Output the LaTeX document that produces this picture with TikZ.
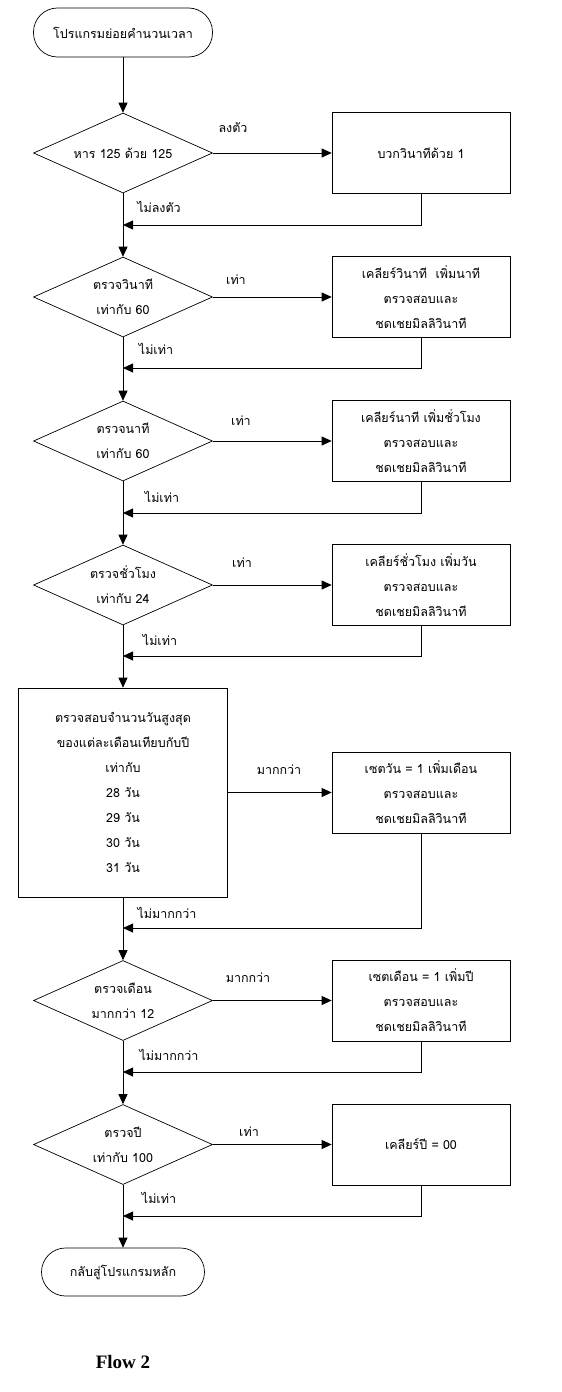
\documentclass[tikz,border=0pt]{standalone}
\usepackage{fontspec}
\setmainfont{Liberation Serif}
\newfontfamily\thai[Script=Thai]{Loma}
\usetikzlibrary{shapes.geometric,arrows.meta}
\begin{document}
\begin{tikzpicture}[x=1pt,y=-1pt,
  every node/.style={font=\thai\fontsize{12.5}{25}\selectfont, inner sep=0pt},
  line/.style={draw=black, line width=0.8pt},
  arr/.style={line, -{Triangle[length=10pt,width=9pt]}},
  dec/.style={draw, line width=0.7pt, shape=diamond, aspect=2.24, minimum width=179pt, minimum height=80pt, align=center},
  proc/.style={draw, line width=0.7pt, rectangle, minimum width=178pt, minimum height=81pt, align=center},
  term/.style={draw, line width=0.7pt, rectangle, rounded corners=24pt, minimum height=49pt, align=center},
  lab/.style={anchor=center}]
\useasboundingbox (0,0) rectangle (562,1392);

\node[term, minimum width=179pt] (start) at (123,32.5) {โปรแกรมย่อยคำนวนเวลา};

\node[dec] (d1) at (123,153) {หาร 125 ด้วย 125};
\node[proc] (b1) at (421,153) {บวกวินาทีด้วย 1};
\coordinate (j1) at (123,225);

\node[dec] (d2) at (123,297) {ตรวจวินาที\\เท่ากับ 60};
\node[proc] (b2) at (421,297) {เคลียร์วินาที\ \ เพิ่มนาที\\ตรวจสอบและ\\ชดเชยมิลลิวินาที};
\coordinate (j2) at (123,368);

\node[dec] (d3) at (123,441) {ตรวจนาที\\เท่ากับ 60};
\node[proc] (b3) at (421,441) {เคลียร์นาที เพิ่มชั่วโมง\\ตรวจสอบและ\\ชดเชยมิลลิวินาที};
\coordinate (j3) at (123,513);

\node[dec] (d4) at (123,585) {ตรวจชั่วโมง\\เท่ากับ 24};
\node[proc] (b4) at (421,585) {เคลียร์ชั่วโมง เพิ่มวัน\\ตรวจสอบและ\\ชดเชยมิลลิวินาที};
\coordinate (j4) at (123,656);

\node[proc, minimum width=209pt, minimum height=209pt] (big) at (123,792.5) {ตรวจสอบจำนวนวันสูงสุด\\ของแต่ละเดือนเทียบกับปี\\เท่ากับ\\28 วัน\\29 วัน\\30 วัน\\31 วัน};
\node[proc] (b5) at (421,792.5) {เซตวัน = 1 เพิ่มเดือน\\ตรวจสอบและ\\ชดเชยมิลลิวินาที};
\coordinate (j5) at (123,928);

\node[dec] (d6) at (123,1000.5) {ตรวจเดือน\\มากกว่า 12};
\node[proc] (b6) at (421,1000.5) {เซตเดือน = 1 เพิ่มปี\\ตรวจสอบและ\\ชดเชยมิลลิวินาที};
\coordinate (j6) at (123,1072);

\node[dec] (d7) at (123,1144.5) {ตรวจปี\\เท่ากับ 100};
\node[proc] (b7) at (421,1144.5) {เคลียร์ปี = 00};
\coordinate (j7) at (123,1216);

\node[term, minimum width=163pt, minimum height=48pt] (end) at (123,1272) {กลับสู่โปรแกรมหลัก};

\node[font=\rmfamily\bfseries\fontsize{19}{22}\selectfont] (title) at (123,1362) {Flow 2};

% labels
\node[lab] (l1y) at (233,128) {ลงตัว};
\node[lab] (l1n) at (159,207) {ไม่ลงตัว};
\node[lab] (l2y) at (236,280) {เท่า};
\node[lab] (l2n) at (156,349) {ไม่เท่า};
\node[lab] (l3y) at (241,421) {เท่า};
\node[lab] (l3n) at (162,497) {ไม่เท่า};
\node[lab] (l4y) at (242,563) {เท่า};
\node[lab] (l4n) at (160,640) {ไม่เท่า};
\node[lab] (l5y) at (279,770) {มากกว่า};
\node[lab] (l5n) at (167,913) {ไม่มากกว่า};
\node[lab] (l6y) at (248,978) {มากกว่า};
\node[lab] (l6n) at (169,1055) {ไม่มากกว่า};
\node[lab] (l7y) at (249,1132) {เท่า};
\node[lab] (l7n) at (159,1198) {ไม่เท่า};

% connectors
\draw[arr] (start) -- (d1);
\draw[arr] (d1.east) -- (b1.west);
\draw[arr] (b1.south) |- (j1);
\draw[arr] (d1) -- (d2);
\draw[arr] (d2.east) -- (b2.west);
\draw[arr] (b2.south) |- (j2);
\draw[arr] (d2) -- (d3);
\draw[arr] (d3.east) -- (b3.west);
\draw[arr] (b3.south) |- (j3);
\draw[arr] (d3) -- (d4);
\draw[arr] (d4.east) -- (b4.west);
\draw[arr] (b4.south) |- (j4);
\draw[arr] (d4) -- (big);
\draw[arr] (big.east) -- (b5.west);
\draw[arr] (b5.south) |- (j5);
\draw[arr] (big) -- (d6);
\draw[arr] (d6.east) -- (b6.west);
\draw[arr] (b6.south) |- (j6);
\draw[arr] (d6) -- (d7);
\draw[arr] (d7.east) -- (b7.west);
\draw[arr] (b7.south) |- (j7);
\draw[arr] (d7) -- (end);
\end{tikzpicture}
\end{document}
